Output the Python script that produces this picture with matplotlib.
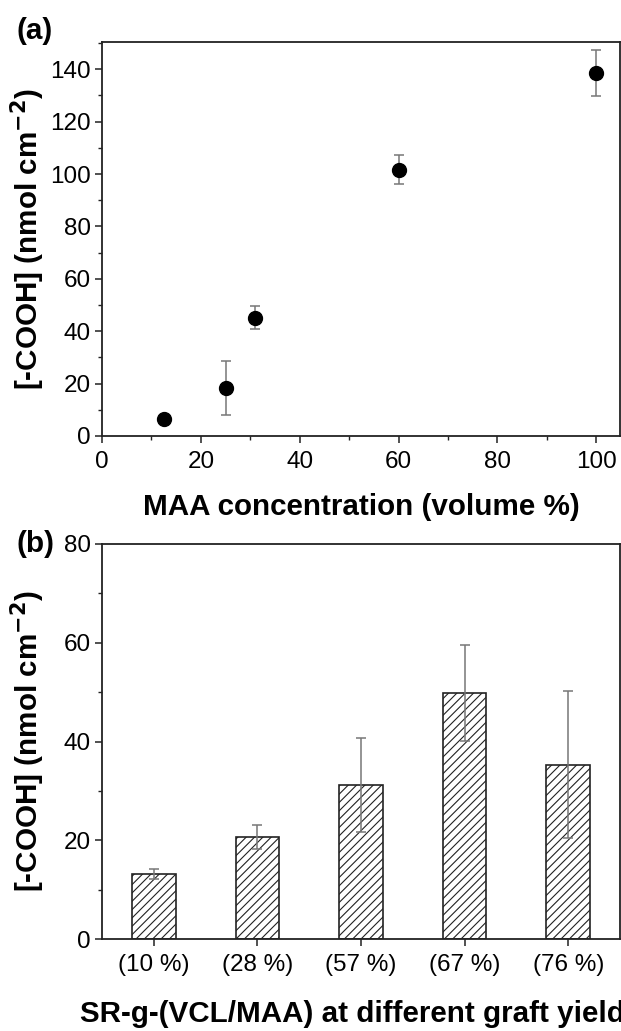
import numpy as np
import matplotlib.pyplot as plt
from matplotlib.ticker import MultipleLocator

plt.rcParams['font.family'] = ['Liberation Sans', 'DejaVu Sans']
plt.rcParams['hatch.linewidth'] = 0.8
plt.rcParams['hatch.color'] = '#444444'

# panel (a) data
maa_conc = [12.5, 25, 31, 60, 100]
cooh_a = [6.3, 18.4, 45.2, 101.7, 138.4]
err_a = [0.8, 10.3, 4.5, 5.5, 8.8]

# panel (b) data
graft_labels = ['(10 %)', '(28 %)', '(57 %)', '(67 %)', '(76 %)']
cooh_b = [13.2, 20.6, 31.2, 49.9, 35.3]
err_b = [1.0, 2.4, 9.6, 9.7, 14.9]

W, H = 621, 1031
fig = plt.figure(figsize=(W / 100, H / 100), dpi=100)

def axes_px(left, right, top, bottom):
    return fig.add_axes([left / W, 1 - bottom / H, (right - left) / W, (bottom - top) / H])

ax1 = axes_px(102, 620, 41.7, 436)
ax2 = axes_px(102, 620, 544, 939)

tick_fs = 17.5
lab_fs = 21.3
ylabel = r'[-COOH] (nmol cm$^{\mathbf{-2}}$)'

# (a) scatter with error bars
ax1.errorbar(maa_conc, cooh_a, yerr=err_a, fmt='o', color='black', markersize=10,
             ecolor='#777777', elinewidth=1.1, capsize=3.3, capthick=1.1)
ax1.set_xlim(0, 104.8)
ax1.set_ylim(0, 150.5)
ax1.xaxis.set_major_locator(MultipleLocator(20))
ax1.xaxis.set_minor_locator(MultipleLocator(10))
ax1.yaxis.set_major_locator(MultipleLocator(20))
ax1.yaxis.set_minor_locator(MultipleLocator(10))
ax1.set_xlabel('MAA concentration (volume %)', fontsize=lab_fs, fontweight='bold', labelpad=14)
ax1.set_ylabel(ylabel, fontsize=lab_fs, fontweight='bold', labelpad=2)
ax1.text(-0.165, 1.028, '(a)', transform=ax1.transAxes, fontsize=lab_fs, fontweight='bold',
         ha='left', va='center')

# (b) hatched bars
pos = np.arange(1, len(cooh_b) + 1)
ax2.bar(pos, cooh_b, width=0.42, color='white', edgecolor='#222222', linewidth=1.2,
        hatch='////', zorder=2)
ax2.errorbar(pos, cooh_b, yerr=err_b, fmt='none', ecolor='#777777', elinewidth=1.1,
             capsize=3.3, capthick=1.1, zorder=3)
ax2.set_xlim(0.5, 5.5)
ax2.set_ylim(0, 80)
ax2.set_xticks(pos)
ax2.set_xticklabels(graft_labels)
ax2.yaxis.set_major_locator(MultipleLocator(20))
ax2.yaxis.set_minor_locator(MultipleLocator(10))
ax2.set_xlabel('SR-g-(VCL/MAA) at different graft yields', fontsize=lab_fs,
               fontweight='bold', labelpad=17)
ax2.set_ylabel(ylabel, fontsize=lab_fs, fontweight='bold', labelpad=12)
ax2.text(-0.165, 1.0, '(b)', transform=ax2.transAxes, fontsize=lab_fs, fontweight='bold',
         ha='left', va='center')

for ax in (ax1, ax2):
    for s in ax.spines.values():
        s.set_linewidth(1.3)
        s.set_color('#222222')
    ax.tick_params(which='major', direction='out', length=5, width=1.1, labelsize=tick_fs,
                   pad=3, color='#222222')
    ax.tick_params(which='minor', direction='out', length=3, width=1.0, color='#222222')
    ax.tick_params(axis='x', which='major', pad=6)

fig.savefig('out.png', dpi=100)
